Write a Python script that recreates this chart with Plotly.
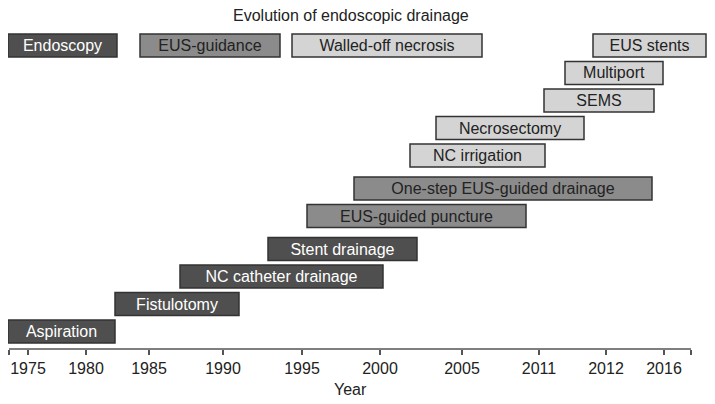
import plotly.graph_objects as go

# Timeline position units (non-uniform time axis; ticks labelled with years)
labels = ["Aspiration", "Fistulotomy", "NC catheter drainage", "Stent drainage",
          "EUS-guided puncture", "One-step EUS-guided drainage", "NC irrigation",
          "Necrosectomy", "SEMS", "Multiport",
          "Endoscopy", "EUS-guidance", "Walled-off necrosis", "EUS stents"]
start = [-1, 106, 171, 259, 298, 345, 401, 427, 535, 556, -1, 131, 283, 584]
end = [106, 230, 374, 408, 517, 643, 536, 575, 645, 654, 108, 271, 473, 697]
row = [0, 1, 2, 3, 4.2, 5.2, 6.4, 7.4, 8.4, 9.4, 10.4, 10.4, 10.4, 10.4]
group = ["endo", "endo", "endo", "endo", "eus", "eus", "won", "won", "won", "won",
         "endo", "eus", "won", "won"]

tick_pos = [0, 19, 77, 140, 214, 293, 371, 453, 530, 597, 655, 682]
tick_text = ["", "1975", "1980", "1985", "1990", "1995", "2000", "2005",
             "2011", "2012", "2016", ""]

fill = {"endo": "#4f4f4f", "eus": "#8b8b8b", "won": "#d4d4d4"}
txtc = {"endo": "#ffffff", "eus": "#222222", "won": "#222222"}

FONT = "Liberation Sans, Arial, sans-serif"

fig = go.Figure()
for g in ["endo", "eus", "won"]:
    idx = [i for i, gg in enumerate(group) if gg == g]
    fig.add_trace(go.Bar(
        orientation="h",
        y=[row[i] for i in idx],
        base=[start[i] for i in idx],
        x=[end[i] - start[i] for i in idx],
        text=[labels[i] for i in idx],
        textposition="inside",
        insidetextanchor="middle",
        textangle=0,
        textfont=dict(family=FONT, size=16, color=txtc[g]),
        marker=dict(color=fill[g], line=dict(color="#333333", width=1.5)),
        width=0.84,
        showlegend=False,
        hoverinfo="skip",
    ))

# page body has an 8px margin, so the figure is 707x396 and sits at (8, 8)
W, H = 707, 396
TOP = 20
PLOT_B = 341
PLOT_H = PLOT_B - TOP
fig.update_layout(
    width=W, height=H,
    margin=dict(l=0, r=7, t=TOP, b=H - PLOT_B),
    paper_bgcolor="white", plot_bgcolor="white",
    barmode="overlay",
    uniformtext=dict(minsize=16, mode="show"),
    font=dict(family=FONT, color="#222222"),
    annotations=[
        dict(text="Evolution of endoscopic drainage", xref="paper", yref="paper",
             x=0.49, y=1 + 12 / PLOT_H, xanchor="center", yanchor="middle",
             showarrow=False, font=dict(family=FONT, size=16, color="#222222")),
        dict(text="Year", xref="paper", yref="paper", x=0.4886, y=-41 / PLOT_H,
             xanchor="center", yanchor="middle", showarrow=False,
             font=dict(family=FONT, size=16, color="#222222")),
    ],
    xaxis=dict(range=[-1, 699], showgrid=False, zeroline=False, showline=False,
               tickmode="array", tickvals=tick_pos, ticktext=tick_text,
               ticks="outside", ticklen=5, tickwidth=1.5, tickcolor="#555555",
               tickfont=dict(family=FONT, size=16, color="#222222")),
    yaxis=dict(range=[-0.636, 11.036], showgrid=False, zeroline=False,
               showline=False, showticklabels=False, ticks=""),
    shapes=[dict(type="line", xref="x", yref="paper", x0=tick_pos[0], x1=tick_pos[-1],
                 y0=0, y1=0, line=dict(color="#555555", width=1.5))],
)

fig.write_html("out.html")
